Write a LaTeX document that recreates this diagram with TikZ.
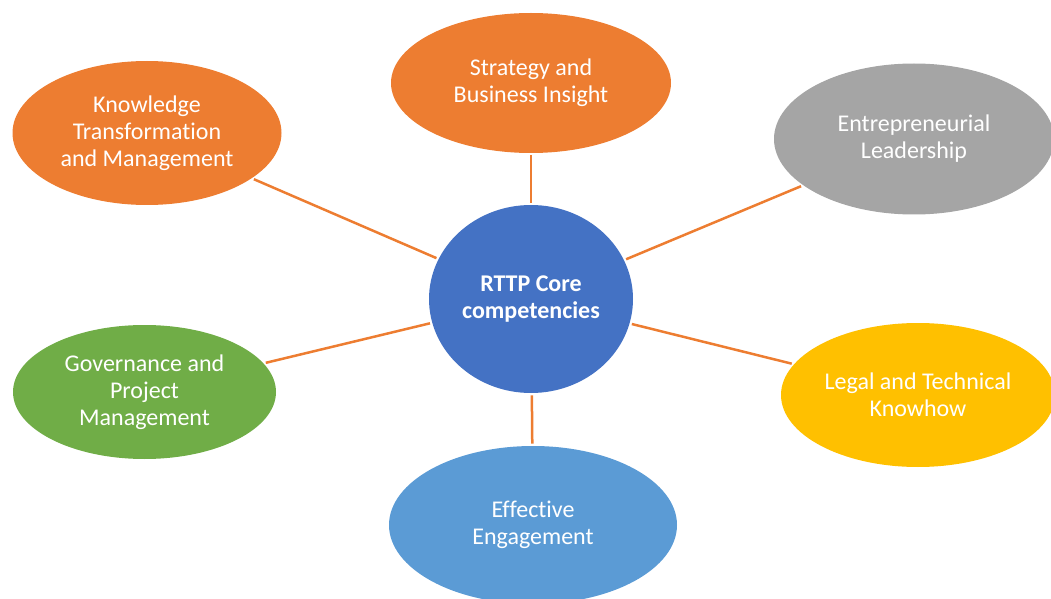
\documentclass[tikz,border=0pt]{standalone}
\usepackage{fontspec}
\setmainfont{Carlito}[Ligatures=NoCommon]
\usepackage{tikz}
\usetikzlibrary{shapes.geometric}

\definecolor{offorange}{HTML}{ED7D31}
\definecolor{offgrey}{HTML}{A5A5A5}
\definecolor{offblue}{HTML}{4472C4}
\definecolor{offgreen}{HTML}{70AD47}
\definecolor{offgold}{HTML}{FFC000}
\definecolor{offsky}{HTML}{5B9BD5}

\begin{document}
\begin{tikzpicture}[x=0.5pt, y=-0.5pt,
        comp/.style={ellipse, inner sep=0pt, text=white, align=center,
            font=\fontsize{12}{13.5}\selectfont},
        link/.style={offorange, line width=1.25pt, shorten >=1pt, shorten <=1pt}]
    \useasboundingbox (0,0) rectangle (1051,599);
    \clip (0,0) rectangle (1051,599);

        \node [comp, fill=offblue, minimum width=102pt, minimum height=94pt,
               font=\fontsize{12}{13.5}\selectfont\bfseries] (core) at (531,299) {RTTP Core\\competencies};
        \node [comp, fill=offorange, minimum width=140pt, minimum height=70pt] (strat) at (531,83) {Strategy and\\Business Insight};
        \node [comp, fill=offorange, minimum width=134.5pt, minimum height=72pt] (know) at (147,133) {Knowledge\\Transformation\\and Management};
        \node [comp, fill=offgrey, minimum width=140pt, minimum height=75.5pt] (entre) at (914,139) {Entrepreneurial\\Leadership};
        \node [comp, fill=offgreen, minimum width=131.5pt, minimum height=67pt] (gov) at (144.5,392) {Governance and\\Project\\Management};
        \node [comp, fill=offgold, minimum width=137pt, minimum height=72pt] (legal) at (918,395) {Legal and Technical\\Knowhow};
        \node [comp, fill=offsky, minimum width=144pt, minimum height=79pt] (engage) at (533,525) {Effective\\Engagement};

    \draw[link]
        (core) edge (strat)
        (core) edge (know)
        (core) edge (entre)
        (core) edge (gov)
        (core) edge (legal)
        (core) edge (engage)
        ;
\end{tikzpicture}
\end{document}
